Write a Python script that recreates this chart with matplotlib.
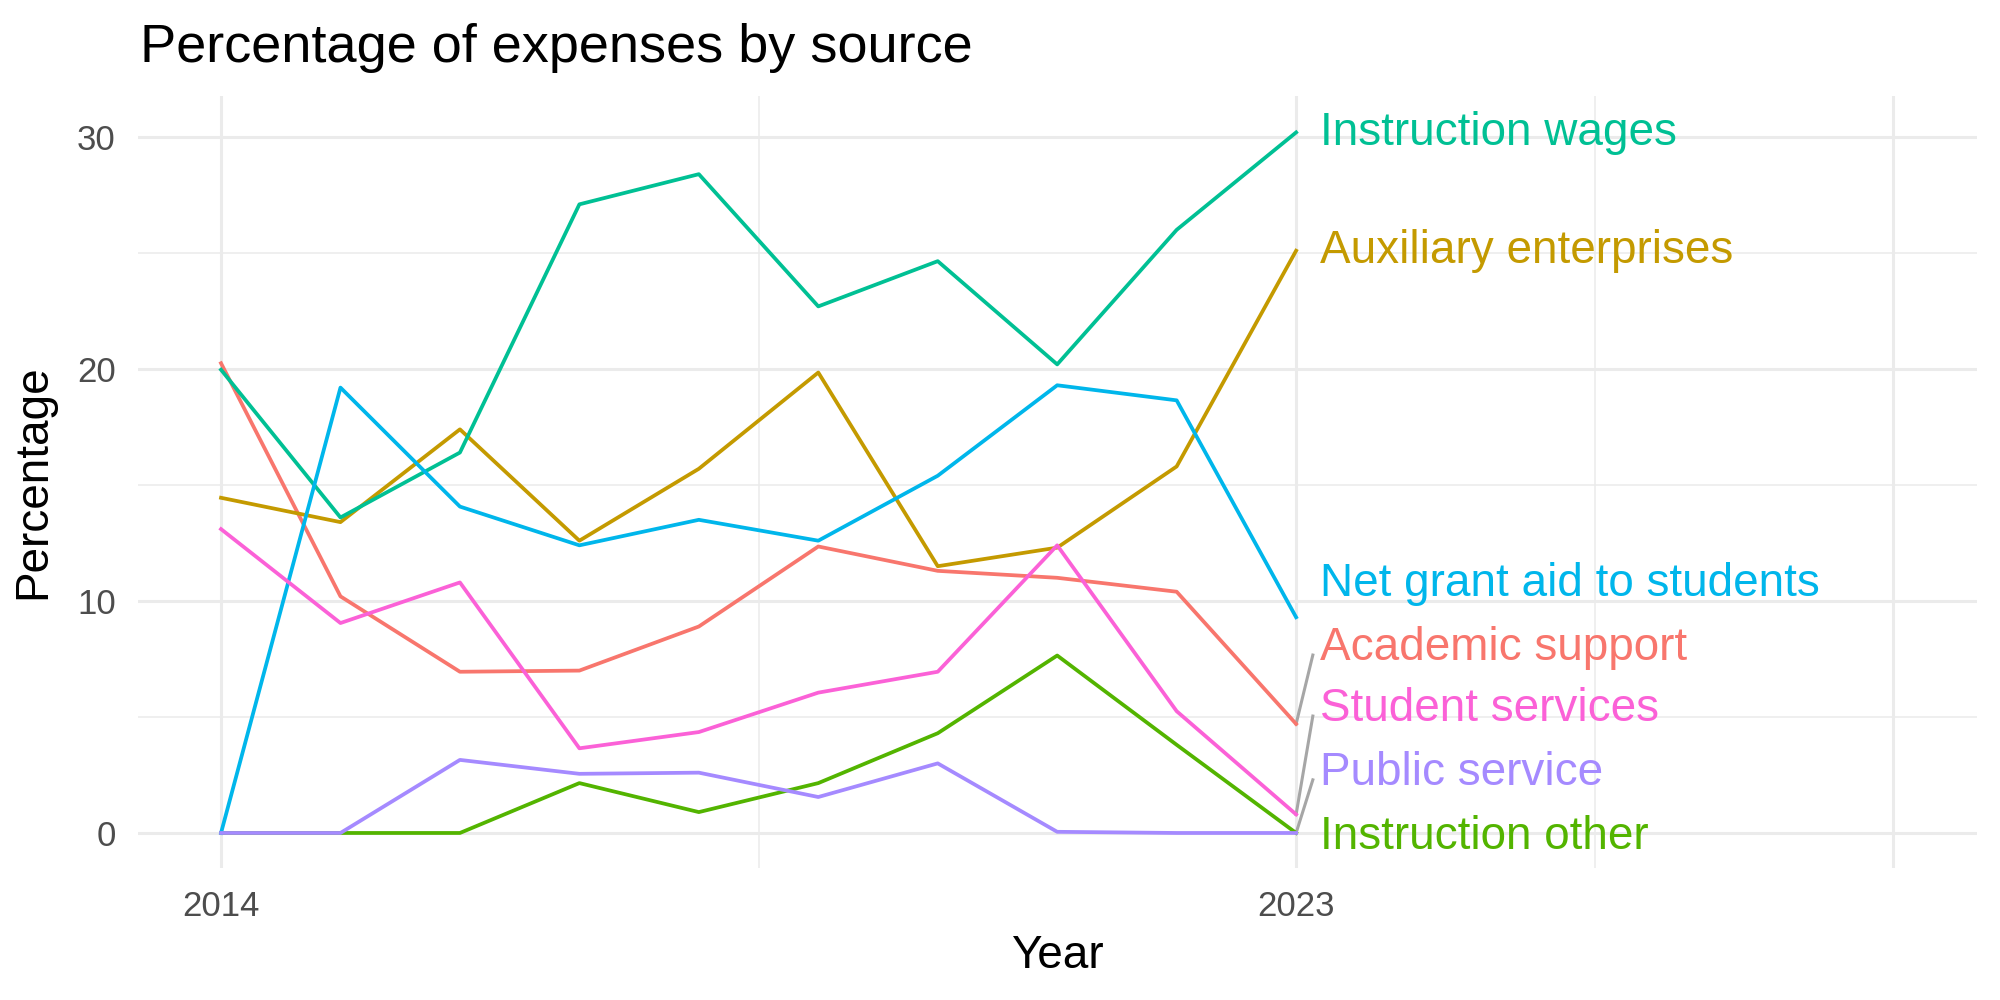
import matplotlib
matplotlib.use("Agg")
import matplotlib.pyplot as plt

plt.rcParams['font.family'] = ['Liberation Sans', 'DejaVu Sans']

# data
years = list(range(2014, 2024))
sources = ['Academic support', 'Auxiliary enterprises', 'Instruction other',
           'Instruction wages', 'Net grant aid to students', 'Public service',
           'Student services']
academic_support = [20.25, 10.2, 6.95, 7.0, 8.9, 12.35, 11.3, 11.0, 10.4, 4.7]
auxiliary_enterprises = [14.45, 13.4, 17.4, 12.6, 15.7, 19.85, 11.5, 12.3, 15.8, 25.1]
instruction_other = [0.0, 0.0, 0.0, 2.15, 0.9, 2.15, 4.3, 7.65, 3.8, 0.0]
instruction_wages = [19.97, 13.6, 16.4, 27.1, 28.4, 22.7, 24.65, 20.2, 26.0, 30.2]
net_grant_aid = [0.0, 19.2, 14.07, 12.4, 13.5, 12.6, 15.4, 19.3, 18.65, 9.3]
public_service = [0.0, 0.0, 3.15, 2.55, 2.6, 1.55, 3.0, 0.05, 0.0, 0.0]
student_services = [13.1, 9.05, 10.8, 3.65, 4.35, 6.05, 6.95, 12.4, 5.25, 0.8]

series = [academic_support, auxiliary_enterprises, instruction_other,
          instruction_wages, net_grant_aid, public_service, student_services]
colors = ['#F8766D', '#C49A00', '#53B400', '#00C094', '#00B6EB', '#A58AFF', '#FB61D7']

# where the repelled labels ended up
label_y = [7.97, 25.07, -0.17, 30.19, 10.72, 2.59, 5.34]
has_segment = [True, False, False, False, False, True, True]

fig = plt.figure(figsize=(10, 5), dpi=200)
ax = fig.add_axes([0.069, 0.132, 0.9195, 0.772])

# ggplot-ish minimal theme grid
grid_col = '#EBEBEB'
for y in [0, 10, 20, 30]:
    ax.axhline(y, color=grid_col, lw=1.1, zorder=0)
for y in [5, 15, 25]:
    ax.axhline(y, color=grid_col, lw=0.55, zorder=0)
for x in [2014, 2023, 2028]:
    ax.axvline(x, color=grid_col, lw=1.1, zorder=0)
for x in [2018.5, 2025.5]:
    ax.axvline(x, color=grid_col, lw=0.55, zorder=0)

for vals, col in zip(series, colors):
    ax.plot(years, vals, color=col, lw=1.35, zorder=2)

for name, vals, col, ly, seg in zip(sources, series, colors, label_y, has_segment):
    if seg:
        ax.plot([2023, 2023.14], [vals[-1], ly - 0.3], color='#A6A6A6', lw=1.1, zorder=1)
    ax.text(2023.2, ly, name, color=col, fontsize=16.5, va='center', ha='left')

ax.set_xlim(2013.305, 2028.70)
ax.set_ylim(-1.51, 31.77)
ax.set_xticks([2014, 2023])
ax.set_yticks([0, 10, 20, 30])
ax.tick_params(length=0, labelsize=12.5, labelcolor='#4D4D4D', pad=8)
for s in ax.spines.values():
    s.set_visible(False)

ax.set_xlabel('Year', fontsize=16.5, labelpad=4)
ax.set_ylabel('Percentage', fontsize=16.5, labelpad=8)
fig.text(0.07, 0.952, 'Percentage of expenses by source', fontsize=19.5, va='center', ha='left')

fig.savefig('out.png', dpi=200, facecolor='white')
